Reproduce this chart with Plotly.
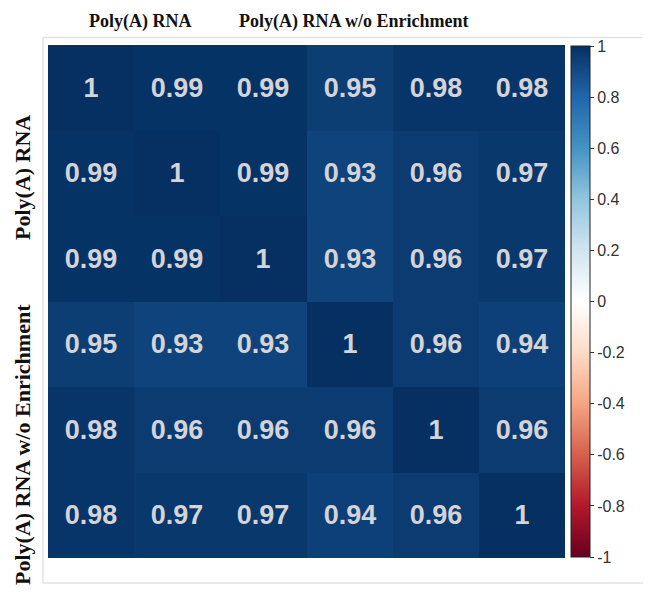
import plotly.graph_objects as go

samples = ["A1", "A2", "A3", "B1", "B2", "B3"]
values = [
    [1.00, 0.99, 0.99, 0.95, 0.98, 0.98],
    [0.99, 1.00, 0.99, 0.93, 0.96, 0.97],
    [0.99, 0.99, 1.00, 0.93, 0.96, 0.97],
    [0.95, 0.93, 0.93, 1.00, 0.96, 0.94],
    [0.98, 0.96, 0.96, 0.96, 1.00, 0.96],
    [0.98, 0.97, 0.97, 0.94, 0.96, 1.00],
]
group_labels = ["Poly(A) RNA", "Poly(A) RNA w/o Enrichment"]
cbar_vals = [1, 0.8, 0.6, 0.4, 0.2, 0, -0.2, -0.4, -0.6, -0.8, -1]
cbar_text = ["1", "0.8", "0.6", "0.4", "0.2", "0", "-0.2", "-0.4", "-0.6", "-0.8", "-1"]

rdbu = ["#67001F", "#B2182B", "#D6604D", "#F4A582", "#FDDBC7", "#FFFFFF",
        "#D1E5F0", "#92C5DE", "#4393C3", "#2166AC", "#053061"]
colorscale = [[i / 10, c] for i, c in enumerate(rdbu)]

W, H = 651, 592
OFF = 8  # page offset of the plot div
L, R, T, B = 48 - OFF, 565 - OFF, 45 - OFF, 558 - OFF
pw, ph = R - L, B - T


def px_x(p):
    return (p - OFF - L) / pw


def px_y(p):
    return (B - (p - OFF)) / ph


text = [[f"{v:g}" for v in row] for row in values]

fig = go.Figure(go.Heatmap(
    z=values, x=samples, y=samples,
    zmin=-1, zmax=1, colorscale=colorscale,
    text=text, texttemplate="<b>%{text}</b>",
    textfont=dict(family="Liberation Sans, Arial", size=27, color="#d4d4d8"),
    colorbar=dict(
        x=px_x(571), xanchor="left", xpad=0,
        y=px_y(301.5), yanchor="middle", ypad=0,
        thickness=19, thicknessmode="pixels",
        len=511, lenmode="pixels",
        outlinecolor="#222222", outlinewidth=1,
        tickmode="array", tickvals=cbar_vals, ticktext=cbar_text,
        ticks="outside", ticklen=4, tickcolor="#333333",
        tickfont=dict(family="Liberation Sans, Arial", size=16, color="#333333"),
    ),
    showscale=True,
    hoverongaps=False,
))

fig.update_xaxes(showticklabels=False, ticks="", showgrid=False, zeroline=False)
fig.update_yaxes(showticklabels=False, ticks="", showgrid=False, zeroline=False,
                 autorange="reversed")

# frame lines
frame_col = "#e2e2e2"
fig.add_shape(type="line", xref="paper", yref="paper",
              x0=px_x(43), x1=px_x(660), y0=px_y(37.5), y1=px_y(37.5),
              line=dict(color=frame_col, width=1.5))
fig.add_shape(type="line", xref="paper", yref="paper",
              x0=px_x(43), x1=px_x(660), y0=px_y(583), y1=px_y(583),
              line=dict(color=frame_col, width=1.5))
fig.add_shape(type="line", xref="paper", yref="paper",
              x0=px_x(43), x1=px_x(43), y0=px_y(37.5), y1=px_y(583),
              line=dict(color=frame_col, width=1.5))

serif = "Liberation Serif, Times New Roman, serif"
fig.add_annotation(text="<b>" + group_labels[0] + "</b>", xref="paper", yref="paper",
                   x=px_x(140), y=px_y(21), xanchor="center", yanchor="middle",
                   showarrow=False, font=dict(family=serif, size=18, color="#111111"))
fig.add_annotation(text="<b>" + group_labels[1] + "</b>", xref="paper", yref="paper",
                   x=px_x(353), y=px_y(21), xanchor="center", yanchor="middle",
                   showarrow=False, font=dict(family=serif, size=18, color="#111111"))
fig.add_annotation(text="<b>" + group_labels[0] + "</b>", xref="paper", yref="paper",
                   x=px_x(22), y=px_y(178), xanchor="center", yanchor="middle",
                   textangle=-90, showarrow=False,
                   font=dict(family=serif, size=22, color="#111111"))
fig.add_annotation(text="<b>" + group_labels[1] + "</b>", xref="paper", yref="paper",
                   x=px_x(22), y=px_y(445), xanchor="center", yanchor="middle",
                   textangle=-90, showarrow=False,
                   font=dict(family=serif, size=22, color="#111111"))

fig.update_layout(
    width=W, height=H,
    margin=dict(l=L, r=W - R, t=T, b=H - B, pad=0),
    paper_bgcolor="white", plot_bgcolor="white",
    showlegend=False,
)

fig.write_html("out.html")
